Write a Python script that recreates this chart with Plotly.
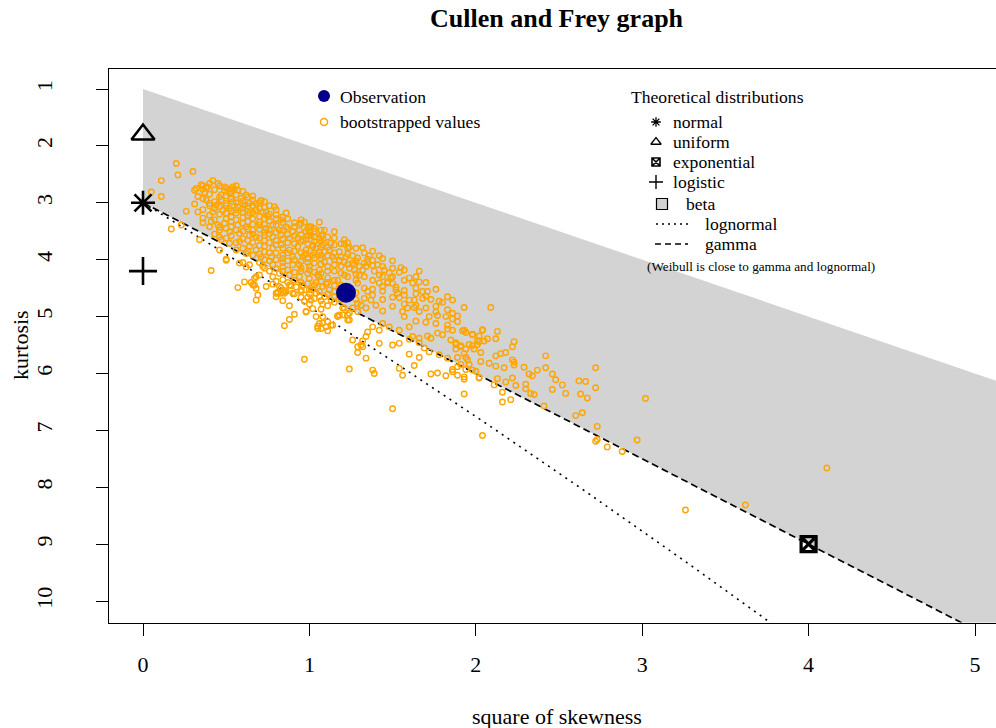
import plotly.graph_objects as go

# ---------------------------------------------------------------------------
# Data
# ---------------------------------------------------------------------------
# observed (square of skewness, kurtosis)
obs_skew2 = [1.22]
obs_kurt = [4.58]

# bootstrapped (square of skewness, kurtosis) pairs
boot_values = [
    (0.20, 2.31), (0.21, 2.51), (0.30, 2.45), (0.11, 2.61), (0.05, 2.81), (0.11, 2.89),
    (0.42, 2.61), (0.45, 2.66), (0.32, 2.75), (0.35, 2.68), (0.38, 2.74), (0.49, 2.78),
    (0.54, 2.72), (0.55, 2.76), (0.17, 3.46), (0.23, 3.39), (0.26, 3.15), (0.33, 3.16),
    (0.31, 3.02), (0.41, 4.19), (0.57, 4.49),
    (0.31, 2.78), (0.36, 2.76), (0.37, 2.82), (0.39, 2.72), (0.49, 2.72), (0.53, 2.76),
    (0.57, 2.78), (0.47, 2.86), (0.52, 2.83), (0.59, 2.92), (0.62, 2.86), (0.66, 2.95),
    (0.71, 2.96), (0.68, 3.01), (0.74, 3.16), (0.79, 3.07), (0.86, 3.18), (0.95, 3.36),
    (1.01, 3.42), (0.98, 3.51), (1.08, 3.57), (1.08, 3.74),
    (0.33, 2.89), (0.38, 2.95), (0.40, 3.01), (0.44, 3.04), (0.47, 2.95), (0.50, 3.01),
    (0.54, 2.98), (0.57, 3.07), (0.61, 3.04), (0.64, 3.01), (0.42, 3.16), (0.48, 3.13),
    (0.52, 3.10), (0.56, 3.18), (0.60, 3.16), (0.64, 3.18), (0.68, 3.13), (0.72, 3.16),
    (0.75, 3.24), (0.80, 3.21), (0.83, 3.30),
    (0.36, 3.27), (0.41, 3.33), (0.45, 3.39), (0.49, 3.36), (0.53, 3.33), (0.57, 3.39),
    (0.62, 3.42), (0.66, 3.48), (0.70, 3.39), (0.74, 3.45), (0.78, 3.39), (0.82, 3.48),
    (0.86, 3.42), (0.90, 3.51), (0.94, 3.48), (0.46, 3.48), (0.52, 3.51), (0.58, 3.54),
    (0.64, 3.57), (0.68, 3.60), (0.73, 3.57), (0.78, 3.60), (0.83, 3.57), (0.88, 3.62),
    (0.93, 3.62), (0.98, 3.65), (1.03, 3.60), (1.07, 3.68),
    (0.47, 3.65), (0.52, 3.71), (0.58, 3.68), (0.64, 3.77), (0.68, 3.83), (0.73, 3.77),
    (0.78, 3.80), (0.83, 3.74), (0.88, 3.83), (0.93, 3.77), (0.98, 3.83), (1.04, 3.80),
    (1.09, 3.86), (0.56, 3.83), (0.62, 3.89), (0.71, 3.95), (0.77, 3.95), (0.84, 3.92),
    (0.90, 3.95), (0.96, 3.95), (1.02, 3.92), (1.07, 3.98),
    (0.50, 4.01), (0.58, 4.06), (0.64, 4.09), (0.72, 4.12), (0.78, 4.09), (0.84, 4.12),
    (0.90, 4.09), (0.95, 4.15), (1.00, 4.12), (1.06, 4.18), (1.11, 4.12), (0.82, 4.24),
    (0.88, 4.27), (0.94, 4.30), (1.00, 4.33), (1.06, 4.30),
    (0.70, 4.27), (0.67, 4.33), (0.74, 4.47), (0.81, 4.57), (0.86, 4.56), (0.95, 4.56),
    (1.00, 4.53), (1.04, 4.59), (1.09, 4.65), (0.68, 4.50), (0.80, 4.65),
    (0.34, 3.65), (0.46, 3.83), (0.50, 3.99), (0.60, 4.05), (0.62, 4.13), (0.68, 4.30),
    (0.73, 4.15), (0.78, 4.30), (0.81, 4.59), (0.85, 4.59), (0.66, 4.44),
    (0.94, 3.39), (0.97, 3.34), (1.00, 3.52), (1.03, 3.45), (0.96, 3.65), (1.02, 3.74),
    (1.06, 3.62), (1.09, 3.71), (1.12, 3.83), (1.15, 3.74), (0.97, 3.92), (1.03, 3.97),
    (1.09, 4.04), (1.15, 4.09), (1.18, 4.01), (1.21, 4.04), (1.24, 4.15), (0.94, 4.09),
    (1.00, 4.18), (1.05, 4.27), (1.11, 4.32), (1.17, 4.36), (1.21, 4.27), (1.27, 4.09),
    (1.32, 4.18), (1.35, 4.04), (1.18, 3.86), (1.26, 3.93), (1.29, 3.97), (1.21, 3.65),
    (1.15, 3.51), (1.09, 3.48), (1.06, 3.34), (1.24, 3.78), (1.32, 3.79), (1.36, 3.93),
    (1.41, 4.09), (1.45, 4.18), (1.50, 4.15), (1.54, 4.22), (1.60, 4.32), (1.47, 4.39),
    (1.52, 4.53), (1.00, 3.42), (1.01, 3.57), (1.07, 3.57), (1.13, 3.71), (1.21, 3.72),
    (1.23, 3.80), (1.02, 3.77), (0.98, 3.89), (1.06, 3.86), (1.14, 3.95), (1.22, 3.95),
    (1.26, 4.06), (1.30, 4.12), (1.35, 3.99),
    (1.42, 3.93), (1.66, 4.20), (1.55, 4.14), (1.66, 4.39), (1.62, 4.41), (1.78, 4.73),
    (1.80, 4.75), (1.73, 4.70), (1.68, 4.68), (1.63, 4.71), (1.60, 4.71), (1.68, 4.56),
    (1.71, 4.56), (1.57, 4.54), (1.54, 4.67), (1.53, 4.59), (1.52, 4.48), (1.47, 4.41),
    (1.49, 4.32), (1.48, 4.23), (1.42, 4.27), (1.42, 4.41), (1.44, 4.47), (1.39, 4.20),
    (1.38, 4.01), (1.34, 4.12), (1.30, 4.27), (1.27, 4.18), (1.29, 4.41), (1.35, 4.56),
    (1.37, 4.71), (1.40, 4.80),
    (1.56, 4.91), (1.59, 4.85), (1.63, 4.84), (1.66, 4.91), (1.72, 5.00), (1.77, 4.98),
    (1.82, 5.00), (1.86, 5.04), (1.89, 5.09),
    (1.93, 5.24), (1.98, 5.31), (2.04, 5.24), (2.07, 5.39), (2.02, 5.44), (1.98, 5.51),
    (1.91, 5.53), (1.88, 5.49), (1.85, 5.41), (1.80, 5.32), (1.77, 5.29), (1.73, 5.38),
    (1.71, 5.34), (1.66, 5.38), (1.62, 5.35),
    (1.60, 5.18), (1.54, 5.24), (1.48, 5.18), (1.44, 5.12), (1.42, 5.24), (1.38, 5.18),
    (1.35, 5.27), (1.34, 5.35), (1.32, 5.43), (1.29, 5.53), (1.26, 5.41), (1.31, 5.50),
    (1.42, 5.47), (1.50, 5.50), (1.54, 5.47), (1.60, 5.40), (1.66, 5.46),
    (1.69, 5.55), (1.72, 5.62), (1.78, 5.67), (1.83, 5.73), (1.89, 5.88), (1.95, 5.76),
    (1.60, 5.66), (1.66, 5.72), (1.63, 5.86), (1.56, 6.03), (1.54, 5.91),
    (1.73, 6.01), (1.77, 5.99), (1.82, 6.04), (1.86, 5.97), (1.93, 6.06), (2.02, 6.07),
    (1.39, 6.00), (1.38, 5.94), (1.34, 5.73), (1.29, 5.63), (1.24, 5.92), (1.32, 5.53),
    (1.06, 5.12), (1.10, 5.18), (1.13, 5.15), (1.05, 5.21), (0.97, 5.75),
    (1.17, 5.00), (1.18, 4.97), (1.24, 5.06), (1.23, 4.97), (0.98, 4.91), (1.04, 5.00),
    (1.08, 5.00), (1.20, 4.85), (1.26, 4.85), (1.29, 4.77), (1.31, 4.80), (1.34, 4.85),
    (1.29, 4.91), (1.50, 6.62),
    (0.61, 4.39), (0.65, 4.40), (0.67, 4.45), (0.69, 4.62), (0.68, 4.71), (0.78, 4.43),
    (0.80, 4.59), (0.83, 4.59), (0.84, 4.72), (0.82, 4.47), (0.83, 4.50), (0.85, 4.54),
    (0.88, 4.45), (0.89, 4.46), (0.90, 4.59), (0.92, 4.48), (0.95, 4.53), (0.96, 4.45),
    (0.98, 4.53), (1.00, 4.60), (1.02, 4.52), (1.04, 4.40), (1.06, 4.56), (1.08, 4.47),
    (1.10, 4.43), (1.12, 4.53), (1.15, 4.46), (0.88, 4.81), (0.98, 4.92), (0.91, 4.96),
    (0.88, 5.05), (0.85, 5.16), (0.97, 4.73), (1.00, 4.78), (1.01, 4.71), (1.06, 4.65),
    (1.02, 4.86), (1.07, 4.87), (1.08, 4.78), (1.11, 4.81), (1.13, 4.71), (1.15, 4.65),
    (1.08, 5.11), (1.05, 5.17), (1.07, 5.21), (1.11, 5.09), (1.14, 5.15), (1.11, 5.25),
    (1.17, 4.99), (1.20, 4.97), (1.23, 5.06), (1.21, 4.85), (1.24, 4.94),
    (2.09, 4.84), (1.93, 4.84), (1.86, 4.71), (2.13, 5.26), (2.12, 5.39), (2.23, 5.44),
    (2.22, 5.53), (2.18, 5.63), (2.15, 5.65), (2.12, 5.69), (2.03, 5.63), (2.42, 5.69),
    (2.22, 5.76), (2.23, 5.80), (2.23, 5.85), (2.72, 5.90), (2.29, 5.89), (2.42, 5.90),
    (2.37, 5.94), (2.17, 5.90), (2.12, 5.87), (2.08, 5.82), (2.32, 6.01), (2.34, 6.04),
    (2.46, 6.01), (2.22, 6.08), (2.48, 6.11), (2.52, 6.20), (2.46, 6.28), (2.62, 6.13),
    (2.66, 6.14), (2.72, 6.25), (2.24, 6.21), (2.18, 6.15), (2.13, 6.09), (2.30, 6.19),
    (2.30, 6.27), (2.33, 6.35), (2.35, 6.37), (2.54, 6.35), (2.63, 6.36), (2.67, 6.43),
    (3.02, 6.44), (2.21, 6.46), (2.16, 6.50), (2.16, 6.33), (2.11, 6.20), (2.41, 6.57),
    (2.60, 6.74), (2.64, 6.69), (2.73, 6.93), (1.93, 6.36), (2.04, 7.09), (2.97, 7.17),
    (2.73, 7.16),
    (1.86, 4.94), (1.89, 4.99), (1.86, 5.24), (1.92, 5.25), (1.94, 5.28), (1.98, 5.32),
    (2.02, 5.34), (2.04, 5.23), (2.05, 5.43), (2.01, 5.42), (1.88, 5.46), (1.91, 5.51),
    (1.96, 5.49), (1.88, 5.57), (1.94, 5.57), (1.99, 5.57), (2.01, 5.49), (1.93, 5.65),
    (1.89, 5.72), (1.94, 5.72), (2.03, 5.79), (1.96, 5.84), (1.91, 5.84), (1.86, 5.93),
    (1.94, 5.93), (1.98, 5.94), (2.00, 5.96), (1.89, 6.03), (1.93, 6.10), (2.02, 6.08),
    (2.72, 7.19), (2.79, 7.29), (2.88, 7.37), (4.11, 7.66), (3.62, 8.31), (3.26, 8.40),
    # dense core of the cloud
    (0.36, 2.70), (0.36, 2.93), (0.36, 3.12), (0.36, 3.35),
    (0.40, 2.66), (0.40, 2.85), (0.40, 3.05), (0.40, 3.22), (0.40, 3.42),
    (0.43, 2.77), (0.43, 2.98), (0.43, 3.10), (0.43, 3.30), (0.43, 3.55),
    (0.46, 2.70), (0.46, 2.90), (0.46, 3.07), (0.46, 3.20), (0.46, 3.43), (0.46, 3.60),
    (0.50, 2.74), (0.50, 2.88), (0.50, 3.05), (0.50, 3.18), (0.50, 3.28), (0.50, 3.45),
    (0.50, 3.62), (0.53, 2.80), (0.53, 2.93), (0.53, 3.14), (0.53, 3.25), (0.53, 3.42),
    (0.53, 3.58), (0.56, 2.70), (0.56, 2.86), (0.56, 3.00), (0.56, 3.12), (0.56, 3.30),
    (0.56, 3.48), (0.56, 3.70), (0.60, 2.80), (0.60, 2.97), (0.60, 3.10), (0.60, 3.26),
    (0.60, 3.36), (0.60, 3.50), (0.60, 3.63), (0.60, 3.80), (0.63, 2.90), (0.63, 3.06),
    (0.63, 3.22), (0.63, 3.33), (0.63, 3.46), (0.63, 3.66), (0.63, 3.85),
    (0.66, 2.88), (0.66, 3.05), (0.66, 3.17), (0.66, 3.28), (0.66, 3.38), (0.66, 3.55),
    (0.66, 3.70), (0.66, 3.92), (0.70, 3.00), (0.70, 3.10), (0.70, 3.24), (0.70, 3.34),
    (0.70, 3.47), (0.70, 3.62), (0.70, 3.75), (0.70, 3.90), (0.70, 4.05),
    (0.73, 2.98), (0.73, 3.08), (0.73, 3.28), (0.73, 3.38), (0.73, 3.52), (0.73, 3.66),
    (0.73, 3.86), (0.73, 4.00), (0.76, 3.05), (0.76, 3.20), (0.76, 3.32), (0.76, 3.48),
    (0.76, 3.55), (0.76, 3.70), (0.76, 3.88), (0.76, 4.02), (0.76, 4.20),
    (0.80, 3.12), (0.80, 3.28), (0.80, 3.40), (0.80, 3.52), (0.80, 3.66), (0.80, 3.74),
    (0.80, 3.88), (0.80, 4.00), (0.80, 4.16), (0.80, 4.38),
    (0.84, 3.25), (0.84, 3.35), (0.84, 3.48), (0.84, 3.63), (0.84, 3.80), (0.84, 3.98),
    (0.84, 4.05), (0.84, 4.20), (0.84, 4.35), (0.87, 3.28), (0.87, 3.45), (0.87, 3.56),
    (0.87, 3.70), (0.87, 3.88), (0.87, 4.02), (0.87, 4.18), (0.87, 4.40),
    (0.91, 3.35), (0.91, 3.42), (0.91, 3.58), (0.91, 3.72), (0.91, 3.85), (0.91, 4.00),
    (0.91, 4.22), (0.91, 4.36), (0.91, 4.60), (0.95, 3.30), (0.95, 3.56), (0.95, 3.68),
    (0.95, 3.88), (0.95, 4.03), (0.95, 4.20), (0.95, 4.40), (0.95, 4.66),
    (0.99, 3.45), (0.99, 3.58), (0.99, 3.72), (0.99, 3.98), (0.99, 4.05), (0.99, 4.24),
    (0.99, 4.42), (0.99, 4.66), (1.03, 3.50), (1.03, 3.68), (1.03, 3.88), (1.03, 4.06),
    (1.03, 4.22), (1.03, 4.45), (1.03, 4.68), (1.07, 3.48), (1.07, 3.78), (1.07, 3.92),
    (1.07, 4.08), (1.07, 4.24), (1.07, 4.38), (1.07, 4.72),
    (1.11, 3.60), (1.11, 3.78), (1.11, 3.93), (1.11, 4.20), (1.11, 4.40), (1.11, 4.60),
    (1.15, 3.62), (1.15, 3.88), (1.15, 4.00), (1.15, 4.20), (1.15, 4.36), (1.15, 4.56),
    (1.15, 4.75), (1.19, 3.72), (1.19, 3.95), (1.19, 4.12), (1.19, 4.24), (1.19, 4.45),
    (1.19, 4.70), (1.23, 3.70), (1.23, 3.90), (1.23, 4.08), (1.23, 4.30), (1.23, 4.48),
    (1.23, 4.66), (1.28, 3.80), (1.28, 4.02), (1.28, 4.25), (1.28, 4.36), (1.28, 4.58),
    (1.28, 4.70), (1.33, 3.88), (1.33, 4.06), (1.33, 4.30), (1.33, 4.50), (1.33, 4.68),
    (1.38, 3.85), (1.38, 4.10), (1.38, 4.36), (1.38, 4.52), (1.38, 4.62),
    (1.44, 3.98), (1.44, 4.12), (1.44, 4.30), (1.44, 4.55), (1.44, 4.70), (1.44, 4.90),
    (1.50, 4.02), (1.50, 4.30), (1.50, 4.42), (1.50, 4.66), (1.50, 4.82),
    (1.57, 4.18), (1.57, 4.36), (1.57, 4.62), (1.57, 4.78), (1.57, 5.00),
    (1.64, 4.30), (1.64, 4.50), (1.64, 4.60), (1.64, 4.80), (1.64, 5.08),
    (1.70, 4.40), (1.70, 4.64), (1.70, 4.85), (1.70, 5.10),
    (1.76, 4.52), (1.76, 4.82), (1.76, 4.92), (1.76, 5.12),
    (1.83, 4.65), (1.83, 4.88), (1.83, 5.15), (1.83, 5.22),
]
boot_skew2 = [p[0] for p in boot_values]
boot_kurt = [p[1] for p in boot_values]

# reference distributions: (square of skewness, kurtosis)
normal_pt = (0.0, 3.0)
uniform_pt = (0.0, 1.8)
logistic_pt = (0.0, 4.2)
exponential_pt = (4.0, 9.0)

# gamma line end points
gamma_skew2 = [0.0, 5.3]
gamma_kurt = [3.0, 10.95]

# lognormal curve
lnorm_skew2 = [0.0, 0.182, 0.465, 0.961, 1.488, 2.048, 2.641, 3.267, 3.928]
lnorm_kurt = [3.0, 3.326, 3.838, 4.756, 5.758, 6.850, 8.035, 9.320, 10.710]

# beta region (between the upper limit kurtosis = skew^2 + 1 and the gamma line)
beta_skew2 = [0.0, 5.3, 5.3, 0.0]
beta_kurt = [1.0, 6.3, 10.95, 3.0]

# ---------------------------------------------------------------------------
# Figure
# ---------------------------------------------------------------------------
W, H = 996, 728
FONT = "Liberation Serif, Times New Roman, serif"
GREY = "#D3D3D3"
ORANGE = "#FFA500"
NAVY = "#00008B"


def fx(px):
    return px / W


def fy(py):
    return 1 - py / H


fig = go.Figure()

fig.add_trace(go.Scatter(
    x=beta_skew2, y=beta_kurt, mode="lines", fill="toself",
    fillcolor=GREY, line=dict(width=0, color=GREY), hoverinfo="skip"))

fig.add_trace(go.Scatter(
    x=lnorm_skew2, y=lnorm_kurt, mode="lines",
    line=dict(color="black", width=1.6, dash="2px,5px")))

fig.add_trace(go.Scatter(
    x=gamma_skew2, y=gamma_kurt, mode="lines",
    line=dict(color="black", width=1.7, dash="7px,4px")))

fig.add_trace(go.Scatter(
    x=boot_skew2, y=boot_kurt, mode="markers",
    marker=dict(symbol="circle-open", size=5.5, color=ORANGE,
                line=dict(width=1.4, color=ORANGE))))

fig.add_trace(go.Scatter(
    x=[obs_skew2[0]], y=[obs_kurt[0]], mode="markers",
    marker=dict(symbol="circle", size=20, color=NAVY)))

theo = [
    (normal_pt, "asterisk-open", 20, 2.6),
    (uniform_pt, "triangle-up-open", 20, 2.6),
    (logistic_pt, "cross-thin-open", 20, 2.6),
    (exponential_pt, "square-x-open", 15, 3.2),
]
for (px_, py_), sym, sz, lw in theo:
    fig.add_trace(go.Scatter(
        x=[px_], y=[py_], mode="markers", cliponaxis=False,
        marker=dict(symbol=sym, size=sz, color="black",
                    line=dict(width=lw, color="black"))))

# ---- legend glyphs, drawn on a pixel-space overlay -------------------------
LX = "x2"
LY = "y2"
fig.add_trace(go.Scatter(x=[324], y=[96], xaxis=LX, yaxis=LY, mode="markers",
                         marker=dict(symbol="circle", size=12, color=NAVY)))
fig.add_trace(go.Scatter(x=[324], y=[122], xaxis=LX, yaxis=LY, mode="markers",
                         marker=dict(symbol="circle-open", size=7, color=ORANGE,
                                     line=dict(width=1.5, color=ORANGE))))
glyphs = [
    (122, "asterisk-open", 8, 1.3),
    (142, "triangle-up-open", 9, 1.3),
    (162, "square-x-open", 8, 1.6),
    (182, "cross-thin-open", 10, 1.4),
]
for gy, sym, sz, lw in glyphs:
    fig.add_trace(go.Scatter(x=[656], y=[gy], xaxis=LX, yaxis=LY, mode="markers",
                             marker=dict(symbol=sym, size=sz, color="black",
                                         line=dict(width=lw, color="black"))))
fig.add_trace(go.Scatter(x=[662], y=[204], xaxis=LX, yaxis=LY, mode="markers",
                         marker=dict(symbol="square", size=11, color=GREY,
                                     line=dict(width=1.2, color="black"))))
fig.add_trace(go.Scatter(x=[656, 688], y=[224, 224], xaxis=LX, yaxis=LY, mode="lines",
                         line=dict(color="black", width=1.3, dash="2px,4px")))
fig.add_trace(go.Scatter(x=[655, 688], y=[244, 244], xaxis=LX, yaxis=LY, mode="lines",
                         line=dict(color="black", width=1.4, dash="6px,4px")))

# ---- text ------------------------------------------------------------------
ann = []


def text(s, px, py, size, xanchor="left", angle=0):
    ann.append(dict(text=s, x=fx(px), y=fy(py), xref="paper", yref="paper",
                    xanchor=xanchor, yanchor="middle", showarrow=False,
                    textangle=angle, font=dict(family=FONT, size=size, color="black")))


text("<b>Cullen and Frey graph</b>", 557, 18, 26, "center")
text("square of skewness", 557, 716, 22, "center")
text("kurtosis", 20, 345, 22, "center", -90)
text("Observation", 338, 97, 17.6)
text("bootstrapped values", 338, 122, 17.6)
text("Theoretical distributions", 629, 97, 17.6)
text("normal", 671, 122, 17.6)
text("uniform", 671, 142, 17.6)
text("exponential", 671, 162, 17.6)
text("logistic", 671, 182, 17.6)
text("beta", 684, 204, 17.6)
text("lognormal", 703, 224, 17.6)
text("gamma", 703, 244, 17.6)
text("(Weibull is close to gamma and lognormal)", 761, 266, 13.2, "center")

PLOT_L, PLOT_T, PLOT_B = 109, 69, 622.5
X0_PX, X_UNIT = 143.0, 166.4
Y1_PX, Y_UNIT = 89.0, 56.9

x_lo = (PLOT_L - X0_PX) / X_UNIT
x_hi = (W - X0_PX) / X_UNIT
y_top = 1 + (PLOT_T - Y1_PX) / Y_UNIT
y_bot = 1 + (PLOT_B - Y1_PX) / Y_UNIT

axis_common = dict(
    showgrid=False, zeroline=False, showline=True, linecolor="black", linewidth=1,
    ticks="outside", ticklen=12, tickwidth=1, tickcolor="black",
    tickfont=dict(family=FONT, size=22, color="black"), layer="below traces")

fig.update_layout(
    width=W, height=H, showlegend=False,
    margin=dict(l=0, r=0, t=0, b=0, pad=0),
    paper_bgcolor="white", plot_bgcolor="rgba(0,0,0,0)",
    annotations=ann,
    xaxis=dict(domain=[PLOT_L / W, 1], range=[x_lo, x_hi],
               tickvals=[0, 1, 2, 3, 4, 5], mirror=True, anchor="y",
               ticklabelstandoff=10, **axis_common),
    yaxis=dict(domain=[fy(PLOT_B), fy(PLOT_T)], range=[y_bot, y_top],
               tickvals=list(range(1, 11)), tickangle=-90, anchor="x",
               ticklabelstandoff=35, **axis_common),
    xaxis2=dict(domain=[0, 1], range=[0, W], visible=False, anchor="y2"),
    yaxis2=dict(domain=[0, 1], range=[H, 0], visible=False, anchor="x2"),
)

fig.write_html("out.html")
